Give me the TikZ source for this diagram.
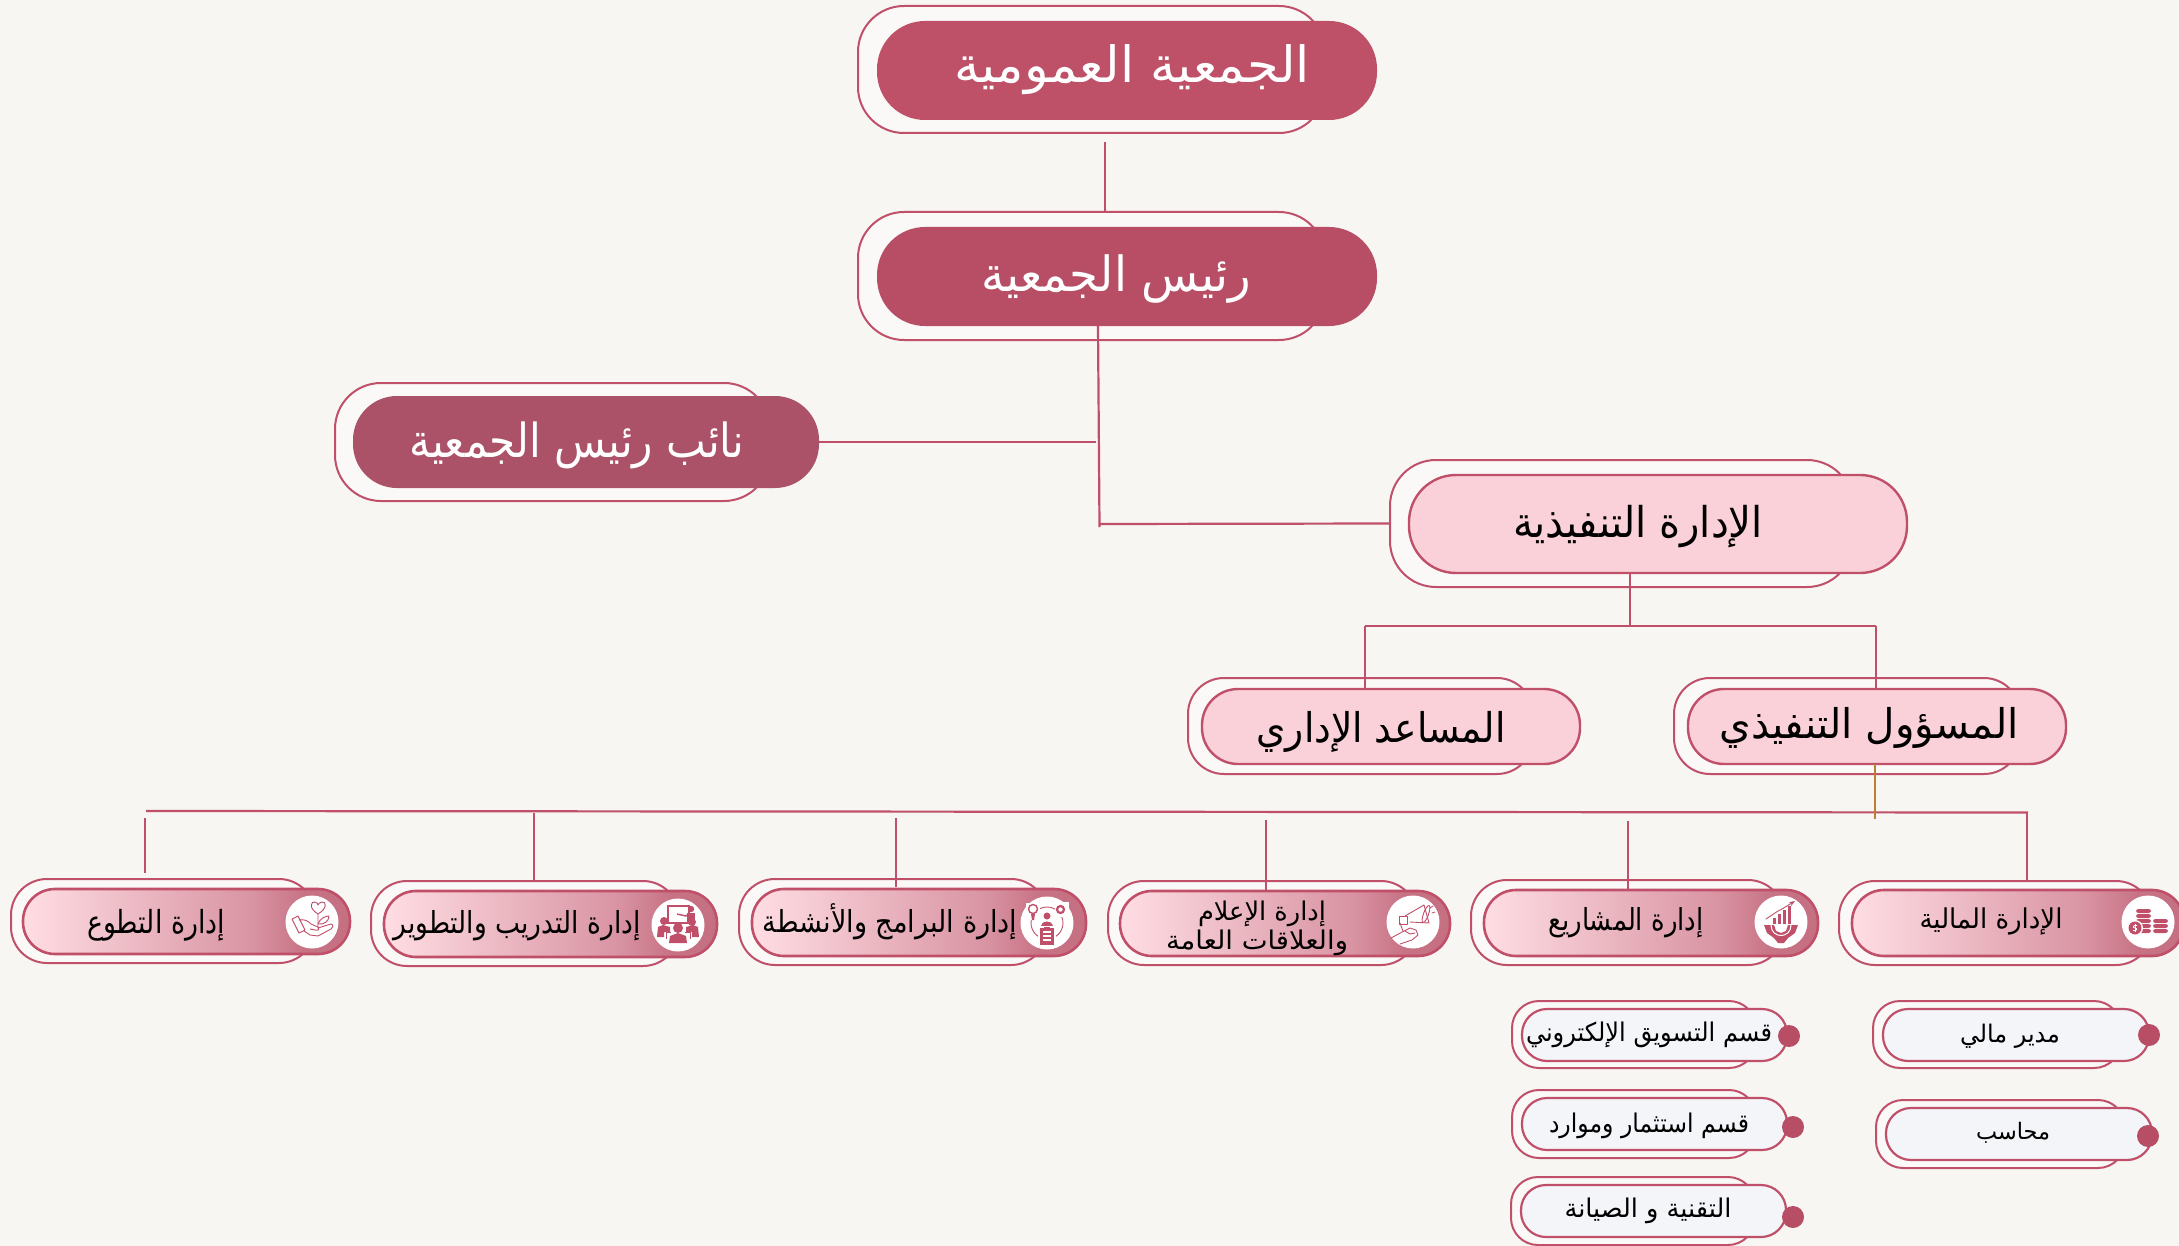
\documentclass[tikz,border=0pt]{standalone}
\usepackage{fontspec}
\usetikzlibrary{arrows.meta}
\TeXXeTstate=1
\newfontfamily\arabicfont[Script=Arabic]{DejaVu Sans}
\definecolor{bgc}{HTML}{F7F6F2}
\definecolor{outerc}{HTML}{FAF9F7}
\definecolor{rose}{HTML}{C0506A}
\definecolor{topc}{HTML}{BE5068}
\definecolor{secc}{HTML}{B74E65}
\definecolor{depc}{HTML}{AB5269}
\definecolor{pinkc}{HTML}{FAD1D9}
\definecolor{palec}{HTML}{F4F5F9}
\definecolor{orangec}{HTML}{BC7F32}
\pgfdeclarehorizontalshading{pillshade}{100bp}{rgb(0bp)=(1,.87,.89);rgb(25bp)=(1,.87,.89);rgb(60bp)=(.85,.58,.64);rgb(68bp)=(.78,.45,.52);rgb(75bp)=(.77,.44,.51);rgb(100bp)=(.77,.44,.51)}
\newsavebox{\arbox}
% \artxt{target width px}{target alif height px}{text}
\newcommand{\artxt}[3]{\sbox{\arbox}{\arabicfont #3}\pgfmathsetmacro{\sxv}{#1*0.5/\wd\arbox}\pgfmathsetmacro{\syv}{#2*0.5/6.6}\scalebox{\sxv}[\syv]{\usebox{\arbox}}}
% \pill[style]{name}{x1}{y1}{x2}{y2}{radius}
\newcommand{\pill}[7][]{\node[#1,rounded corners={#7*0.5pt},minimum width={(#5-#3)*0.5pt},minimum height={(#6-#4)*0.5pt}] (#2) at ({(#3+#5)/2},{(#4+#6)/2}) {};}
\newcommand{\lab}[7][black]{\node[lbl,text=#1] (#2) at (#3,#4) {\artxt{#5}{#6}{#7}};}
\tikzset{
  lbl/.style={anchor=base,inner sep=0pt,outer sep=0pt},
  outerp/.style={draw=rose,line width=1pt,fill=outerc,inner sep=0pt,outer sep=0pt},
  darkp/.style={fill=#1,inner sep=0pt,outer sep=0pt},
  pinkp/.style={draw=rose,line width=1.2pt,fill=pinkc,inner sep=0pt,outer sep=0pt},
  gradp/.style={draw=rose,line width=1.3pt,shading=pillshade,inner sep=0pt,outer sep=0pt},
  palep/.style={draw=rose,line width=1.1pt,fill=palec,inner sep=0pt,outer sep=0pt},
  conn/.style={draw=rose,line width=1.1pt},
  icbg/.style={circle,fill=white,inner sep=0pt,minimum size=26.5pt},
  dotn/.style={circle,fill=secc,inner sep=0pt,minimum size=11pt},
  ink/.style={draw=rose,line width=0.45pt,line cap=round,line join=round}
}
\begin{document}
\begin{tikzpicture}[x=0.5pt,y=-0.5pt]
\useasboundingbox (0,0) rectangle (2179,1246);
\fill[bgc] (0,0) rectangle (2179,1246);

% named free ends
\coordinate (a1) at (1105,142);
\coordinate (a2) at (1098,340);
\coordinate (a3) at (1099.5,527);
\coordinate (a4) at (1096,442);
\coordinate (a5) at (1099,524);
\coordinate (a6) at (1630,626);
\coordinate (a7) at (1365,626);
\coordinate (a8) at (1876,626);
\coordinate (a9) at (1875,819);
\coordinate (h1) at (146,811);
\coordinate (h2) at (2028,812.5);
\coordinate (v1a) at (145,818);
\coordinate (v1b) at (145,873);
\coordinate (v2) at (534,813);
\coordinate (v3a) at (896,818);
\coordinate (v3b) at (896,887);
\coordinate (v4) at (1266,820);
\coordinate (v5) at (1628,821);
\coordinate (v6) at (2027,812);

% outer shells
\pill[outerp]{o1}{858}{6}{1325}{133}{46}
\pill[outerp]{o2}{858}{212}{1325}{340}{46}
\pill[outerp]{o3}{335}{383}{770}{501}{46}
\pill[outerp]{o4}{1390}{460}{1853}{587}{46}
\pill[outerp]{o5}{1188}{678}{1533}{774}{36}
\pill[outerp]{o6}{1674}{678}{2020}{774}{36}
\pill[outerp]{o7}{11}{879}{315}{963}{36}
\pill[outerp]{o8}{371}{881}{679}{966}{36}
\pill[outerp]{o9}{739}{879}{1047}{965}{36}
\pill[outerp]{o10}{1108}{881}{1417}{965}{36}
\pill[outerp]{o11}{1471}{880}{1784}{965}{36}
\pill[outerp]{o12}{1839}{881}{2152}{965}{36}
\pill[outerp]{o13}{1512}{1001}{1756}{1068}{27}
\pill[outerp]{o14}{1512}{1090}{1756}{1158}{27}
\pill[outerp]{o15}{1511}{1177}{1755}{1245}{27}
\pill[outerp]{o16}{1873}{1001}{2121}{1068}{27}
\pill[outerp]{o17}{1876}{1100}{2125}{1168}{27}

% inner pills
\pill[darkp=topc]{p1}{877}{21}{1377}{120}{48}
\pill[darkp=secc]{p2}{877}{227}{1377}{326}{48}
\pill[darkp=depc]{p3}{353}{396}{819}{488}{44}
\pill[pinkp]{p4}{1409}{475}{1907}{573}{47}
\pill[pinkp]{p5}{1202}{689}{1580}{764}{36}
\pill[pinkp]{p6}{1688}{689}{2066}{764}{36}
\pill[gradp]{p7}{23}{889}{350}{954}{32}
\pill[gradp]{p8}{384}{891}{717}{957}{32}
\pill[gradp]{p9}{752}{889}{1086}{956}{32}
\pill[gradp]{p10}{1120}{891}{1450}{956}{32}
\pill[gradp]{p11}{1484}{890}{1818}{956}{32}
\pill[gradp]{p12}{1852}{890}{2184}{956}{32}
\pill[palep]{p13}{1522}{1009}{1787}{1061}{25}
\pill[palep]{p14}{1522}{1098}{1787}{1150}{25}
\pill[palep]{p15}{1521}{1185}{1786}{1237}{25}
\pill[palep]{p16}{1883}{1009}{2149}{1061}{25}
\pill[palep]{p17}{1886}{1108}{2152}{1160}{25}

% connectors
\draw[conn] (a1) -- (a1 |- o2.north);
\draw[conn] (a2 |- p2.south) -- (a3);
\draw[conn] (p3.east) -- (a4);
\draw[conn] (a5) -- (o4.west);
\draw[conn] (a6 |- p4.south) -- (a6);
\draw[conn] (a7) -- (a8);
\draw[conn] (a7) -- (a7 |- p5.north);
\draw[conn] (a8) -- (a8 |- p6.north);
\draw[conn] (h1) -- (h2);
\draw[conn] (v1a) -- (v1b);
\draw[conn] (v2) -- (v2 |- o8.north);
\draw[conn] (v3a) -- (v3b);
\draw[conn] (v4) -- (v4 |- p10.north);
\draw[conn] (v5) -- (v5 |- p11.north);
\draw[conn] (v6) -- (v6 |- o12.north);
\draw[draw=orangec,line width=0.8pt] (a9 |- p6.south) -- (a9);

% dots
\node[dotn] (d13) at (1789,1036) {};
\node[dotn] (d14) at (1793,1127) {};
\node[dotn] (d15) at (1793,1217) {};
\node[dotn] (d16) at (2149,1035) {};
\node[dotn] (d17) at (2148,1136) {};

% labels
\lab[white]{t1}{1132}{83}{356}{33}{\beginR الجمعية العمومية\endR}
\lab[white]{t2}{1116}{292}{270}{32}{\beginR رئيس الجمعية\endR}
\lab[white]{t3}{577}{457}{335}{31}{\beginR نائب رئيس الجمعية\endR}
\lab{t4}{1638}{537}{250}{28}{\beginR الإدارة التنفيذية\endR}
\lab{t5}{1381}{742}{249}{27}{\beginR المساعد الإداري\endR}
\lab{t6}{1869}{738}{299}{27}{\beginR المسؤول التنفيذي\endR}
\lab{t7}{156}{933}{138}{21}{\beginR إدارة التطوع\endR}
\lab{t8}{517}{933}{247}{20}{\beginR إدارة التدريب والتطوير\endR}
\lab{t9}{890}{932}{255}{20}{\beginR إدارة البرامج والأنشطة\endR}
\lab{t10a}{1262}{920}{128}{17}{\beginR إدارة الإعلام\endR}
\lab{t10b}{1257}{949}{182}{17}{\beginR والعلاقات العامة\endR}
\lab{t11}{1626}{930}{155}{20}{\beginR إدارة المشاريع\endR}
\lab{t12}{1991}{928}{143}{18}{\beginR الإدارة المالية\endR}
\lab{t13}{1649}{1041}{246}{17}{\beginR قسم التسويق الإلكتروني\endR}
\lab{t14}{1649}{1132}{200}{17}{\beginR قسم استثمار وموارد\endR}
\lab{t15}{1648}{1217}{167}{17}{\beginR التقنية  و الصيانة\endR}
\lab{t16}{2010}{1042}{100}{16}{\beginR مدير مالي\endR}
\lab{t17}{2013}{1139}{74}{15}{\beginR محاسب\endR}

% icons
\node[icbg] (i7) at (312,922) {};
\node[icbg] (i8) at (678,925) {};
\node[icbg] (i9) at (1047,923) {};
\node[icbg] (i10) at (1413,922) {};
\node[icbg] (i11) at (1781,922) {};
\node[icbg] (i12) at (2148,922) {};

% coins
\begin{scope}[shift={(i12.center)}]
  \foreach \yy in {-13,-8,-3,2,7} \fill[rose,rounded corners=1.2pt] (-12,\yy) rectangle (3,{\yy+4});
  \foreach \yy in {-3,2,7} \fill[rose,rounded corners=1.2pt] (5,\yy) rectangle (20,{\yy+4});
  \fill[white] (-13,6) circle[radius=8];
  \fill[rose] (-13,6) circle[radius=6.5];
  \draw[white,line width=0.4pt] (-11,3.5) .. controls (-15,2.5) and (-16,6) .. (-13,6) .. controls (-10,6) and (-11,9.5) .. (-15,8.5);
  \draw[white,line width=0.3pt] (-13,2) -- (-13,10);
\end{scope}

% chart and gear
\begin{scope}[shift={(i11.center)}]
  \fill[rose] (-17,3) -- (-7,3) -- (-5,9) -- (0,11) -- (5,9) -- (7,3) -- (17,3) -- (14,11) -- (7,16) -- (3,21) -- (-3,21) -- (-7,16) -- (-14,11) -- cycle;
  \draw[white,line width=0.5pt] (-10,3) .. controls (-10,17) and (10,17) .. (10,3);
  \fill[rose] (-8,-4) rectangle (-5,2);
  \fill[rose] (-3,-8) rectangle (0,2);
  \fill[rose] (2,-12) rectangle (5,2);
  \fill[rose] (7,-16) rectangle (10,2);
  \draw[ink,-{Stealth[length=3pt]}] (-15,-3) -- (-3,-11) -- (1,-13) -- (14,-21);
\end{scope}

% megaphone
\begin{scope}[shift={(i10.center)}]
  \draw[ink] (-8,-6) -- (11,-17) -- (16,1) -- (-3,0);
  \draw[ink] (-14,-6) rectangle (-6,2);
  \draw[ink,rotate around={-20:(13,-8)}] (13,-8) ellipse[x radius=2.5,y radius=9];
  \draw[ink] (17,-14) -- (20,-16);
  \draw[ink] (19,-9) -- (22,-10);
  \draw[ink] (-13,1) -- (-10,9);
  \draw[ink] (-22,16) -- (-9,9) -- (-3,6) -- (3,8) -- (5,13) -- (-1,18) -- (-13,22);
  \draw[ink] (-8,9) -- (-3,12) -- (2,11);
\end{scope}

% programs
\begin{scope}[shift={(i9.center)}]
  \draw[ink] (0,0) circle[radius=16];
  \fill[white] (-21,-20) rectangle (-7,-3);
  \fill[white] (8,-21) rectangle (22,-6);
  \fill[white] (-9,4) rectangle (9,24);
  \draw[rose,line width=0.7pt] (-14,-14) circle[radius=4.5];
  \fill[rose] (-16,-9) -- (-12,-9) -- (-13,-3) -- (-15,-3) -- cycle;
  \draw[rose,line width=1.1pt] (13.5,-13.5) circle[radius=3.5];
  \fill[rose] (0,-7) circle[radius=3.5];
  \fill[rose] (-6,3) .. controls (-6,-3) and (6,-3) .. (6,3) -- cycle;
  \fill[rose] (-7,5) rectangle (7,22);
  \fill[rose] (-3,3.5) rectangle (3,6);
  \foreach \yy in {9,13,17} \draw[white,line width=0.6pt] (-4,\yy) -- (4,\yy);
\end{scope}

% training
\begin{scope}[shift={(i8.center)}]
  \draw[rose,line width=0.6pt] (-10,-19) rectangle (11,-2);
  \draw[rose,line width=0.7pt] (-1,-11) -- (8,-9) -- (12,-12);
  \fill[rose] (13,-16) circle[radius=3.2];
  \fill[rose] (9,-12) rectangle (17,-1);
  \fill[rose] (-14,-4) circle[radius=4];
  \fill[rose] (-21,12) -- (-20,2) -- (-15,0) -- (-8,2) -- (-8,7) -- (-14,7) -- (-14,12) -- cycle;
  \fill[rose] (14,-3) circle[radius=4];
  \fill[rose] (21,12) -- (20,2) -- (15,0) -- (8,2) -- (8,7) -- (14,7) -- (14,12) -- cycle;
  \fill[rose] (0,3) circle[radius=5];
  \fill[rose] (-9,18) -- (-8,11) -- (0,8) -- (8,11) -- (9,18) -- cycle;
  \draw[rose,line width=0.5pt] (-12,7) -- (-12,14) (12,7) -- (12,14) (-12,7) -- (-7,7) (12,7) -- (7,7);
\end{scope}

% hand and flower
\begin{scope}[shift={(i7.center)}]
  \draw[ink] (6,-8) .. controls (-4,-14) and (-1,-21) .. (3,-20) .. controls (5,-20) and (6,-18) .. (6,-17) .. controls (6,-18) and (8,-20) .. (10,-20) .. controls (14,-21) and (16,-14) .. (6,-8) -- (6,6);
  \draw[ink] (6,2) .. controls (8,-4) and (14,-6) .. (17,-6) .. controls (17,-1) and (12,3) .. (6,2);
  \draw[ink] (-20,-3) -- (-14,-6) -- (-7,8) -- (-13,11) -- cycle;
  \draw[ink] (-13,-2) .. controls (-7,-3) and (-4,-1) .. (-1,2) -- (6,5) .. controls (8,7) and (6,9) .. (3,8) -- (-2,7);
  \draw[ink] (6,6) -- (19,2) .. controls (22,3) and (21,6) .. (19,7) -- (6,14) -- (-2,13) -- (-8,9);
\end{scope}
\end{tikzpicture}
\end{document}
